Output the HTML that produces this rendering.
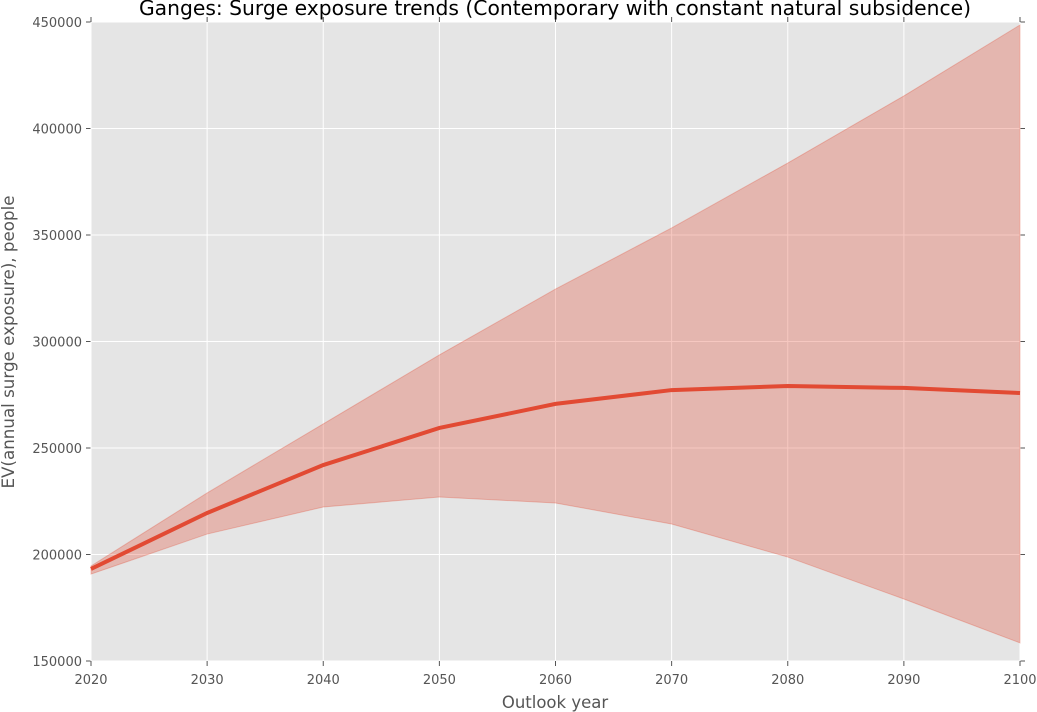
<!DOCTYPE html>
<html><head><meta charset="utf-8"><style>body{margin:0;background:#fff}svg{display:block;font-family:"DejaVu Sans","Liberation Sans",sans-serif}</style></head>
<body>
<svg id="chart" width="1037" height="712" xmlns="http://www.w3.org/2000/svg"></svg>
<script>
const years=[2020,2030,2040,2050,2060,2070,2080,2090,2100];
const meanVals=[193200,219500,242000,259400,270700,277200,279100,278200,275800];
const upperVals=[194600,228900,261300,293700,324600,353300,383800,415300,448600];
const lowerVals=[190800,209600,222300,227000,224200,214300,198800,179100,158500];
const yTicks=[150000,200000,250000,300000,350000,400000,450000];
const X0=91,X1=1020,Y0=661,Y1=22;
const sx=v=>X0+(v-2020)/(2100-2020)*(X1-X0);
const sy=v=>Y0-(v-150000)/(450000-150000)*(Y0-Y1);
const svg=document.getElementById('chart');const NS='http://www.w3.org/2000/svg';
function mk(t,a,p){const e=document.createElementNS(NS,t);for(const k in a)e.setAttribute(k,a[k]);(p||svg).appendChild(e);return e;}
let bg=mk('rect',{x:X0,y:Y1,width:X1-X0,height:Y0-Y1,fill:'#e5e5e5'});


yTicks.forEach(t=>{const y=sy(t);
 let g=mk('line',{x1:X0,x2:X1,y1:y,y2:y,stroke:'#fff','stroke-width':1});
 
 mk('line',{x1:X0-5,x2:X0,y1:y,y2:y,stroke:'#555'});
 mk('line',{x1:X1,x2:X1+5,y1:y,y2:y,stroke:'#555'});
 let tx=mk('text',{x:X0-9,y:y+5,'text-anchor':'end','font-size':13,fill:'#555'});tx.textContent=t;
 
});
years.forEach(t=>{const x=sx(t);
 let g=mk('line',{x1:x,x2:x,y1:Y1,y2:Y0,stroke:'#fff','stroke-width':1});
 
 mk('line',{x1:x,x2:x,y1:Y0,y2:Y0+5,stroke:'#555'});
 mk('line',{x1:x,x2:x,y1:Y1-5,y2:Y1,stroke:'#555'});
 let tx=mk('text',{x:x,y:684,'text-anchor':'middle','font-size':13,fill:'#555'});tx.textContent=t;
 
});
let d=years.map((y,i)=>(i?'L':'M')+sx(y)+','+sy(upperVals[i])).join('');
for(let i=years.length-1;i>=0;i--)d+='L'+sx(years[i])+','+sy(lowerVals[i]);
let band=mk('path',{d:d+'Z',fill:'#e24a33','fill-opacity':0.3,stroke:'#e24a33','stroke-opacity':0.3});

let line=mk('path',{d:years.map((y,i)=>(i?'L':'M')+sx(y)+','+sy(meanVals[i])).join(''),fill:'none',stroke:'#e24a33','stroke-width':4});

let ti=mk('text',{x:555,y:15,'text-anchor':'middle','font-size':20.3,fill:'#000'});ti.textContent='Ganges: Surge exposure trends (Contemporary with constant natural subsidence)';

let xl=mk('text',{x:555,y:708,'text-anchor':'middle','font-size':16.5,fill:'#555'});xl.textContent='Outlook year';

let yl=mk('text',{x:0,y:0,'text-anchor':'middle','font-size':16.7,fill:'#555',transform:'translate(14,342) rotate(-90)'});yl.textContent='EV(annual surge exposure), people';

</script>
</body></html>
